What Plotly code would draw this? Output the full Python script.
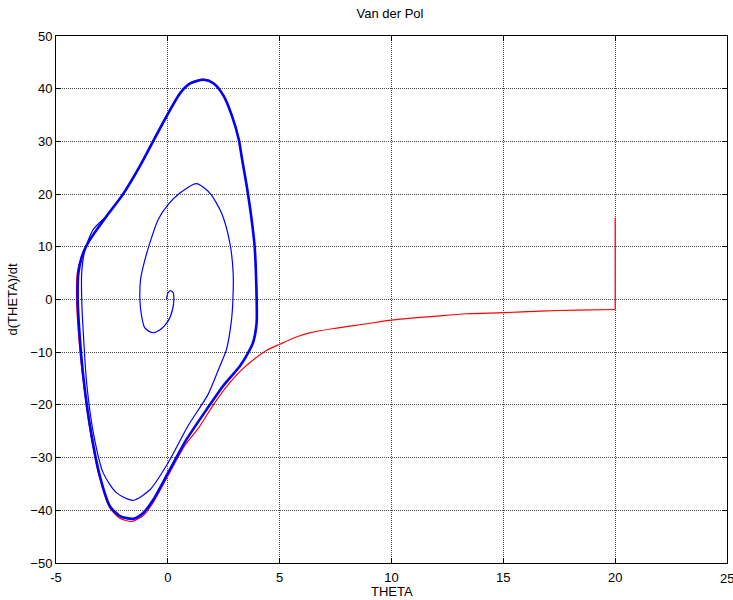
import plotly.graph_objects as go

# Limit cycle (thick blue), traced clockwise
cycle_x = [-4.03, -4.00, -3.85, -3.60, -3.30, -2.74, -2.00, -1.25, -0.66, 0.00, 0.56, 1.00, 1.60, 2.05,
           2.50, 2.87, 3.17, 3.32, 3.54, 3.72, 3.88, 3.97, 3.97, 3.81, 3.50, 3.21, 2.47, 1.73, 0.83,
           0.01, -0.65, -1.10, -1.55, -2.14, -2.59, -3.04, -3.48, -3.78, -3.93, -4.03]
cycle_y = [0.0, 5.0, 8.0, 10.5, 12.5, 15.8, 20.0, 25.3, 30.0, 35.2, 39.2, 41.0, 41.7, 41.0,
           38.6, 34.8, 30.4, 26.6, 21.2, 16.0, 10.1, 0.0, -4.4, -8.2, -10.8, -12.7, -16.4, -20.9, -26.6,
           -32.9, -38.0, -40.5, -41.6, -41.1, -39.2, -33.5, -24.0, -14.6, -7.6, 0.0]

# Spiral from the origin (thin blue)
spiral_x = [-0.06, 0.01, 0.12, 0.24, 0.27, 0.21, 0.01, -0.36, -0.70, -1.03, -1.17, -1.25, -1.22, -1.10,
            -0.80, -0.43, 0.01, 0.54, 1.28, 1.88, 2.40, 2.77, 2.92, 2.91, 2.84, 2.62, 2.32, 1.80,
            0.90, 0.01, -0.80, -1.55, -2.29, -2.89, -3.33, -3.63, -3.78, -3.85, -3.85, -3.70, -3.33, -2.74]
spiral_y = [0.13, 1.27, 1.70, 1.27, 0.0, -1.9, -4.1, -5.8, -6.3, -5.4, -3.2, 0.0, 3.8, 6.3,
            10.8, 15.2, 18.0, 20.2, 22.0, 20.2, 16.4, 10.8, 5.1, 0.0, -4.1, -9.5, -12.7, -18.0,
            -24.0, -31.0, -36.1, -38.1, -36.7, -32.9, -25.3, -15.8, -6.3, 0.0, 5.1, 9.5, 13.3, 15.8]

# Second trajectory (red), from (20, 15.5)
red_x = [20.0, 20.0, 18.3, 16.66, 15.0, 13.38, 11.89, 10.0, 8.9, 7.42, 6.37, 5.63, 5.0, 4.44, 3.84,
         3.24, 2.65, 2.05, 1.40, 0.75, 0.00, -0.65, -1.10, -1.60, -2.15, -2.60, -3.05, -3.50, -3.80,
         -3.97, -4.08, -4.05, -3.88, -3.62, -3.30, -2.74, -2.00, -1.25, -0.66, 0.00, 0.56, 1.00, 1.60,
         2.05, 2.50, 2.87, 3.17, 3.32, 3.54, 3.72, 3.88, 3.98, 3.97, 3.81]
red_y = [15.5, -1.9, -2.0, -2.2, -2.5, -2.7, -3.2, -3.9, -4.6, -5.5, -6.3, -7.3, -8.5, -9.6, -11.4,
         -13.6, -16.4, -19.9, -24.2, -27.8, -33.5, -38.5, -41.0, -42.1, -41.5, -39.5, -33.8, -24.2, -14.8,
         -7.7, 0.0, 5.0, 8.0, 10.5, 12.6, 15.9, 20.1, 25.4, 30.1, 35.3, 39.3, 41.1, 41.8,
         41.1, 38.7, 34.9, 30.5, 26.7, 21.3, 16.1, 10.2, 0.0, -4.4, -8.2]

x_ticks = [-5, 0, 5, 10, 15, 20, 25]
x_labels = ["-5", "0", "5", "10", "15", "20", "25"]
y_ticks = [-50, -40, -30, -20, -10, 0, 10, 20, 30, 40, 50]

FONT = "Liberation Sans, Arial"
FS = 13

fig = go.Figure()
fig.add_trace(go.Scatter(x=red_x[:2], y=red_y[:2], mode="lines",
                         line=dict(color="#FF0000", width=1.2), showlegend=False))
fig.add_trace(go.Scatter(x=red_x[1:], y=red_y[1:], mode="lines",
                         line=dict(color="#FF0000", width=1.2, shape="spline", smoothing=0.7),
                         showlegend=False))
fig.add_trace(go.Scatter(x=spiral_x, y=spiral_y, mode="lines",
                         line=dict(color="#0000FF", width=1.2, shape="spline", smoothing=0.7),
                         showlegend=False))
fig.add_trace(go.Scatter(x=cycle_x, y=cycle_y, mode="lines",
                         line=dict(color="#0000FF", width=2.6, shape="spline", smoothing=0.7),
                         showlegend=False))

axis_common = dict(
    showline=True, linecolor="black", linewidth=1, mirror="allticks",
    ticks="inside", ticklen=5, tickcolor="black",
    showgrid=True, gridcolor="#4a4a4a", griddash="1px,1px", gridwidth=1,
    zeroline=False,
    tickfont=dict(family=FONT, size=FS, color="black"),
)

# the last x label sits past the right edge, as in the reference, so it is placed by hand
x_shown = [lab if v != 25 else "" for v, lab in zip(x_ticks, x_labels)]

fig.update_layout(
    width=733, height=600,
    margin=dict(l=56, r=6, t=36, b=37),
    plot_bgcolor="white", paper_bgcolor="white",
    title=dict(text="Van der Pol", x=0.532, xanchor="center", y=0.978, yanchor="middle",
               font=dict(family=FONT, size=FS, color="black")),
    xaxis=dict(range=[-5, 25], tickvals=x_ticks, ticktext=x_shown, ticklabelstandoff=2, **axis_common),
    yaxis=dict(range=[-50, 50], tickvals=y_ticks, **axis_common),
    annotations=[
        dict(text=x_labels[-1], xref="x", yref="paper", x=x_ticks[-1], y=0, yshift=-15,
             xanchor="center", yanchor="middle", showarrow=False,
             font=dict(family=FONT, size=FS, color="black")),
        dict(text="THETA", xref="paper", yref="paper", x=0.5, y=0, yshift=-28.5,
             xanchor="center", yanchor="middle", showarrow=False,
             font=dict(family=FONT, size=FS, color="black")),
        dict(text="d(THETA)/dt", xref="paper", yref="paper", x=0, y=0.5, xshift=-44,
             xanchor="center", yanchor="middle", textangle=-90, showarrow=False,
             font=dict(family=FONT, size=FS, color="black")),
    ],
)

fig.write_html("out.html")
